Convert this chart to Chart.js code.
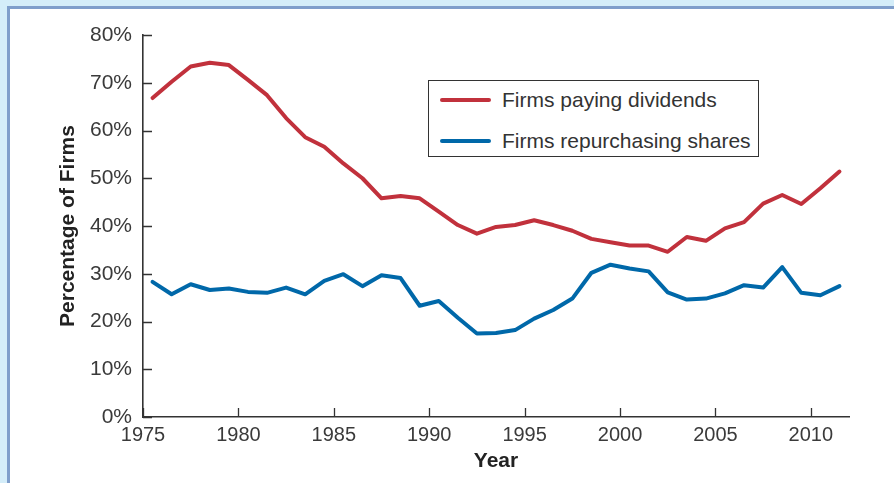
<!DOCTYPE html>
<html>
<head>
<meta charset="utf-8">
<script src="https://cdn.jsdelivr.net/npm/chart.js@4/dist/chart.umd.min.js"></script>
<style>
  html, body { margin:0; padding:0; }
  body { width:894px; height:483px; background:#d4edf9; position:relative; overflow:hidden; font-family:"Liberation Sans", Arial, sans-serif; }
  .panel { position:absolute; left:7px; top:6px; right:0; bottom:0; background:#fff; border-left:3px solid #7f9ecb; border-top:3px solid #7f9ecb; }
  #chart { position:absolute; left:0; top:0; }
  .legend { position:absolute; left:428px; top:80px; width:329px; height:75px; border:1.5px solid #333; background:#fff; }
  .legend-item { position:absolute; left:11px; height:24px; display:flex; align-items:center; font-size:21px; color:#333; white-space:nowrap; }
  .legend-swatch { width:51px; height:4px; border-radius:2px; margin-right:11px; }
</style>
</head>
<body>
<div class="panel"></div>
<canvas id="chart" width="894" height="483"></canvas>
<div class="legend" id="legend"></div>
<script>
// ============================================================
// Dividends vs repurchases, 1975-2011
// ============================================================

var years = [1975,1976,1977,1978,1979,1980,1981,1982,1983,1984,1985,1986,1987,1988,1989,1990,1991,1992,
             1993,1994,1995,1996,1997,1998,1999,2000,2001,2002,2003,2004,2005,2006,2007,2008,2009,2010,2011];

var dividends = [66.8,70.2,73.4,74.2,73.7,70.6,67.4,62.6,58.6,56.6,53.1,50.0,45.8,46.3,45.8,43.0,40.2,38.4,
                 39.8,40.2,41.2,40.2,39.0,37.3,36.6,35.9,35.9,34.6,37.7,36.9,39.5,40.8,44.7,46.5,44.6,47.9,51.4];

var repurchases = [28.3,25.7,27.8,26.6,26.9,26.2,26.0,27.1,25.7,28.5,29.9,27.4,29.7,29.1,23.3,24.3,20.8,17.5,
                   17.6,18.2,20.6,22.4,24.8,30.2,31.9,31.1,30.5,26.1,24.6,24.8,25.9,27.6,27.1,31.4,26.0,25.5,27.4];

var xTicks = [1975,1980,1985,1990,1995,2000,2005,2010];
var yTicks = [0,10,20,30,40,50,60,70,80];

var seriesNames = ['Firms paying dividends', 'Firms repurchasing shares'];
var seriesColors = ['#c1313c', '#0068a9'];

function toPoints(vals) {
  // each year's value sits at mid-year
  return years.map(function(y, i) { return { x: y + 0.5, y: vals[i] }; });
}

var inwardTicks = {
  id: 'inwardTicks',
  afterDraw: function(chart) {
    var ctx = chart.ctx, xs = chart.scales.x, ys = chart.scales.y;
    var a = chart.chartArea;
    ctx.save();
    ctx.strokeStyle = '#333';
    ctx.lineWidth = 1.3;
    ctx.beginPath();
    xTicks.forEach(function(v) {
      var px = Math.round(xs.getPixelForValue(v)) + 0.5;
      ctx.moveTo(px, a.bottom); ctx.lineTo(px, a.bottom - 9);
    });
    yTicks.forEach(function(v) {
      var py = Math.round(ys.getPixelForValue(v)) + 0.5;
      ctx.moveTo(a.left, py); ctx.lineTo(a.left + 9, py);
    });
    ctx.stroke();
    ctx.restore();
  }
};

var ctx = document.getElementById('chart').getContext('2d');
var chart = new Chart(ctx, {
  type: 'line',
  data: {
    datasets: [
      { label: seriesNames[0], data: toPoints(dividends), borderColor: seriesColors[0], borderWidth: 4, pointRadius: 0, tension: 0, borderJoinStyle: 'round', borderCapStyle: 'round' },
      { label: seriesNames[1], data: toPoints(repurchases), borderColor: seriesColors[1], borderWidth: 4, pointRadius: 0, tension: 0, borderJoinStyle: 'round', borderCapStyle: 'round' }
    ]
  },
  options: {
    responsive: false,
    animation: false,
    layout: { padding: { left: 56, right: 45, top: 35, bottom: 0 } },
    plugins: { legend: { display: false }, tooltip: { enabled: false } },
    scales: {
      x: {
        type: 'linear', min: 1975, max: 2012,
        afterBuildTicks: function(s) { s.ticks = xTicks.map(function(v) { return { value: v }; }); },
        afterFit: function(s) { s.height = 66; },
        grid: { display: false, drawTicks: false },
        border: { display: true, color: '#333', width: 1.6 },
        ticks: { color: '#3a3a3a', padding: 6, maxRotation: 0, autoSkip: false,
                 font: { family: 'Liberation Sans', size: 20 },
                 callback: function(v) { return String(v); } },
        title: { display: true, text: 'Year', color: '#222', padding: { top: 0, bottom: 9 },
                 font: { family: 'Liberation Sans', size: 21, weight: 'bold' } }
      },
      y: {
        min: 0, max: 80,
        afterBuildTicks: function(s) { s.ticks = yTicks.map(function(v) { return { value: v }; }); },
        afterFit: function(s) { s.width = 143 - 56; },
        grid: { display: false, drawTicks: false },
        border: { display: true, color: '#333', width: 1.6 },
        ticks: { color: '#3a3a3a', padding: 11, font: { family: 'Liberation Sans', size: 21 },
                 callback: function(v) { return v + '%'; } },
        title: { display: true, text: 'Percentage of Firms', color: '#222', padding: { top: 0, bottom: 0 },
                 font: { family: 'Liberation Sans', size: 21, weight: 'bold' } }
      }
    }
  },
  plugins: [inwardTicks]
});

// legend box
document.getElementById('legend').innerHTML = seriesNames.map(function(n, i) {
  return '<div class="legend-item" style="top:' + (7 + i * 41) + 'px"><span class="legend-swatch" style="background:' + seriesColors[i] + '"></span>' + n + '</div>';
}).join('');
</script>
</body>
</html>
